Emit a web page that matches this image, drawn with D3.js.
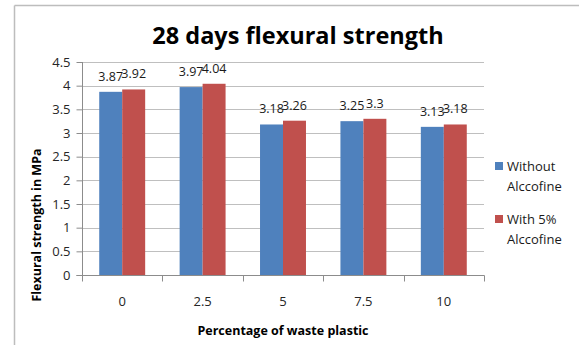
<!DOCTYPE html>
<html>
<head>
<meta charset="utf-8">
<script src="https://cdn.jsdelivr.net/npm/d3@7"></script>
<style>
  html, body { margin: 0; padding: 0; background: #fff; }
  svg { display: block; font-family: "Open Sans", Lato, sans-serif; }
</style>
</head>
<body>
<svg id="chart" width="579" height="345"></svg>
<script>
// Flexural strength at 28 days by waste-plastic percentage
const categories = ["0", "2.5", "5", "7.5", "10"];
const seriesNames = ["Without Alccofine", "With 5% Alccofine"];
const withoutAlccofine = [3.87, 3.97, 3.18, 3.25, 3.13];
const withAlccofine = [3.92, 4.04, 3.26, 3.3, 3.18];
const yTicks = [0, 0.5, 1, 1.5, 2, 2.5, 3, 3.5, 4, 4.5];
const legendLines = [["Without", "Alccofine"], ["With 5%", "Alccofine"]];

const colors = ["#4F81BD", "#C0504D"];
const series = [withoutAlccofine, withAlccofine];

const svg = d3.select("#chart");
const plot = { left: 82, right: 484, top: 62, bottom: 275 };

// outer frame (top and left edges visible)
svg.append("line").attr("x1", 14.5).attr("x2", 579).attr("y1", 5.5).attr("y2", 5.5)
  .attr("stroke", "#bdbdbd").attr("stroke-width", 1.5);
svg.append("line").attr("x1", 14.5).attr("x2", 14.5).attr("y1", 5.5).attr("y2", 345)
  .attr("stroke", "#bdbdbd").attr("stroke-width", 1.5);

const x = d3.scaleBand().domain(categories).range([plot.left, plot.right]);
const y = d3.scaleLinear().domain([0, 4.5]).range([plot.bottom, plot.top]);
const barW = x.bandwidth() / 3.5;
const xs = d3.scaleBand().domain(d3.range(series.length))
  .range([0, barW * series.length]);

// horizontal gridlines
svg.append("g").selectAll("line").data(yTicks.filter(d => d > 0)).join("line")
  .attr("x1", plot.left).attr("x2", plot.right)
  .attr("y1", d => Math.round(y(d)) + 0.5).attr("y2", d => Math.round(y(d)) + 0.5)
  .attr("stroke", "#bfbfbf").attr("stroke-width", 1);

// bars
series.forEach((vals, si) => {
  svg.append("g").selectAll("rect").data(vals).join("rect")
    .attr("x", (d, i) => x(categories[i]) + (x.bandwidth() - barW * 2) / 2 + xs(si))
    .attr("width", barW)
    .attr("y", d => y(d))
    .attr("height", d => y(0) - y(d))
    .attr("fill", colors[si]);
});

// value labels
series.forEach((vals, si) => {
  svg.append("g").selectAll("text").data(vals).join("text")
    .attr("x", (d, i) => x(categories[i]) + (x.bandwidth() - barW * 2) / 2 + xs(si) + barW / 2)
    .attr("y", d => y(d) - 11)
    .attr("text-anchor", "middle")
    .attr("font-size", 12.5)
    .attr("fill", "#1a1a1a")
    .text(d => d);
});

// y axis
const yAxis = d3.axisLeft(y).tickValues(yTicks).tickSize(6).tickPadding(6)
  .tickFormat(d => d);
const gy = svg.append("g").attr("transform", `translate(${plot.left + 0.5},0)`).call(yAxis);
gy.select(".domain").attr("stroke", "#8c8c8c").attr("d", `M-6,${plot.bottom + 0.5}H0V${plot.top}`);
gy.selectAll(".tick line").attr("stroke", "#8c8c8c");
gy.selectAll(".tick text").attr("font-size", 13).attr("fill", "#262626")
  .attr("font-family", "'Open Sans', Lato, sans-serif");

// x axis
const gx = svg.append("g").attr("transform", `translate(0,${plot.bottom + 0.5})`);
gx.append("line").attr("x1", plot.left).attr("x2", plot.right + 0.5)
  .attr("stroke", "#8c8c8c");
const boundaries = categories.map(c => x(c)).concat([x.range()[1]]);
gx.selectAll("line.tk").data(boundaries).join("line").attr("class", "tk")
  .attr("x1", d => Math.round(d) + 0.5).attr("x2", d => Math.round(d) + 0.5)
  .attr("y1", 0).attr("y2", 6).attr("stroke", "#8c8c8c");
gx.selectAll("text").data(categories).join("text")
  .attr("x", d => x(d) + x.bandwidth() / 2)
  .attr("y", 30)
  .attr("text-anchor", "middle")
  .attr("font-size", 13)
  .attr("fill", "#262626")
  .text(d => d);

// title
svg.append("text").attr("x", 298).attr("y", 44)
  .attr("text-anchor", "middle").attr("font-size", 23.5).attr("font-weight", "bold")
  .attr("fill", "#000").text("28 days flexural strength");

// axis titles
svg.append("text").attr("transform", "translate(41,225) rotate(-90)")
  .attr("text-anchor", "middle").attr("font-size", 12.5).attr("font-weight", "bold")
  .attr("fill", "#000").text("Flexural strength in MPa");
svg.append("text").attr("x", 283).attr("y", 335)
  .attr("text-anchor", "middle").attr("font-size", 12.5).attr("font-weight", "bold")
  .attr("fill", "#000").text("Percentage of waste plastic");

// legend
const legend = svg.append("g");
const legendTop = [162, 215];
seriesNames.forEach((name, i) => {
  const g = legend.append("g").attr("aria-label", name);
  g.append("rect").attr("x", 495).attr("y", legendTop[i]).attr("width", 8).attr("height", 8)
    .attr("fill", colors[i]);
  g.selectAll("text").data(legendLines[i]).join("text")
    .attr("x", 507).attr("y", (d, j) => legendTop[i] + 9 + j * 19.5)
    .attr("font-size", 13).attr("fill", "#1a1a1a").text(d => d);
});
</script>
</body>
</html>
